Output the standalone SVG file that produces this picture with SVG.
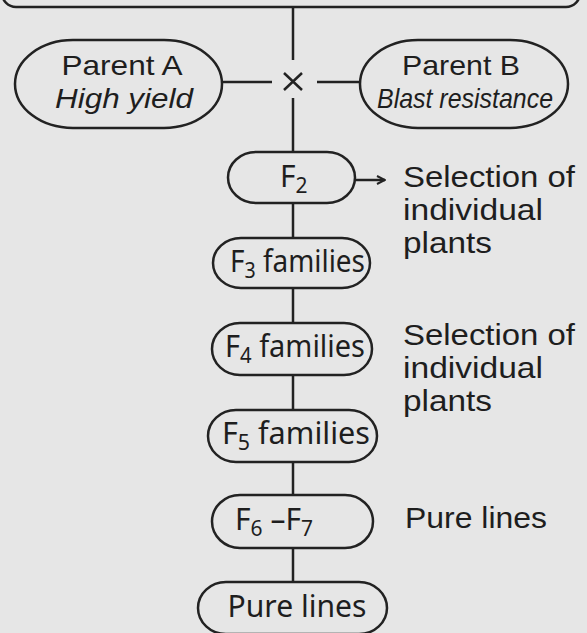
<svg xmlns="http://www.w3.org/2000/svg" width="587" height="633" viewBox="0 0 587 633">
<defs>
<style>
.bg{fill:#e6e6e6}
.box{fill:none;stroke:#222;stroke-width:2.5}
.ln{stroke:#222;stroke-width:2.5;fill:none}
.t{font-family:"Noto Sans","Liberation Sans",sans-serif;font-size:30px;fill:#1e1e1e}
.p{font-family:"Liberation Sans",Arial,sans-serif;font-size:28px;fill:#1e1e1e}
.it{font-style:italic}
.s{font-size:21px}
.r{font-family:"Liberation Sans",Arial,sans-serif;font-size:29px;fill:#1e1e1e}
</style>
<marker id="ah" viewBox="0 0 10 10" refX="9" refY="5" markerWidth="10" markerHeight="10" markerUnits="userSpaceOnUse" orient="auto">
<path d="M1,1 L9,5 L1,9" fill="none" stroke="#222" stroke-width="2"/>
</marker>
</defs>
<rect class="bg" x="0" y="0" width="587" height="633"/>
<g id="top-box"><rect class="box" x="2" y="-30" width="578" height="37" rx="14"/></g>
<g id="connectors">
<line class="ln" x1="293" y1="7" x2="293" y2="60"/>
<line class="ln" x1="293" y1="98" x2="293" y2="152"/>
<line class="ln" x1="222" y1="82" x2="272" y2="82"/>
<line class="ln" x1="317" y1="82" x2="360" y2="82"/>
<line class="ln" x1="293" y1="203" x2="293" y2="238"/>
<line class="ln" x1="293" y1="288" x2="293" y2="323"/>
<line class="ln" x1="293" y1="375" x2="293" y2="410"/>
<line class="ln" x1="293" y1="462" x2="293" y2="495"/>
<line class="ln" x1="293" y1="548" x2="293" y2="582"/>
<line class="ln" x1="355" y1="180" x2="385" y2="180" marker-end="url(#ah)"/>
</g>
<g id="cross"><path class="ln" d="M284,73 L302,90 M302,73 L284,90"/></g>
<g id="parentA">
<rect class="box" x="15" y="40" width="207" height="88" rx="58" ry="44"/>
<text class="p" x="122" y="75" text-anchor="middle" textLength="121" lengthAdjust="spacingAndGlyphs">Parent A</text>
<text class="p it" x="124" y="108" text-anchor="middle" textLength="138" lengthAdjust="spacingAndGlyphs">High yield</text>
</g>
<g id="parentB">
<rect class="box" x="360" y="40" width="208" height="88" rx="58" ry="44"/>
<text class="p" x="461" y="75" text-anchor="middle" textLength="118" lengthAdjust="spacingAndGlyphs">Parent B</text>
<text class="p it" x="465" y="108" text-anchor="middle" textLength="176" lengthAdjust="spacingAndGlyphs">Blast resistance</text>
</g>
<g id="F2">
<rect class="box" x="228" y="152" width="127" height="51" rx="28" ry="25.5"/>
<text class="t" x="280" y="187">F<tspan class="s" dy="6">2</tspan></text>
</g>
<g id="F3">
<rect class="box" x="213" y="238" width="157" height="50" rx="28" ry="25"/>
<text class="t" x="230" y="272" textLength="135" lengthAdjust="spacingAndGlyphs">F<tspan class="s" dy="6">3</tspan><tspan dy="-6"> families</tspan></text>
</g>
<g id="F4">
<rect class="box" x="212" y="323" width="160" height="52" rx="28" ry="26"/>
<text class="t" x="225" y="357" textLength="140" lengthAdjust="spacingAndGlyphs">F<tspan class="s" dy="6">4</tspan><tspan dy="-6"> families</tspan></text>
</g>
<g id="F5">
<rect class="box" x="208" y="410" width="169" height="52" rx="28" ry="26"/>
<text class="t" x="222" y="444" textLength="148" lengthAdjust="spacingAndGlyphs">F<tspan class="s" dy="6">5</tspan><tspan dy="-6"> families</tspan></text>
</g>
<g id="F6F7">
<rect class="box" x="212" y="495" width="161" height="53" rx="28" ry="26.5"/>
<text class="t" x="235" y="530">F<tspan class="s" dy="6">6</tspan><tspan dy="-6"> –F</tspan><tspan class="s" dy="6">7</tspan></text>
</g>
<g id="pure-lines">
<rect class="box" x="198" y="582" width="189" height="52" rx="28" ry="26"/>
<text class="t" x="297" y="617" text-anchor="middle" textLength="139" lengthAdjust="spacingAndGlyphs">Pure lines</text>
</g>
<g id="labels">
<text class="r" x="403" y="187" textLength="172" lengthAdjust="spacingAndGlyphs">Selection of</text>
<text class="r" x="403" y="220" textLength="140" lengthAdjust="spacingAndGlyphs">individual</text>
<text class="r" x="403" y="253" textLength="89" lengthAdjust="spacingAndGlyphs">plants</text>
<text class="r" x="403" y="345" textLength="172" lengthAdjust="spacingAndGlyphs">Selection of</text>
<text class="r" x="403" y="378" textLength="140" lengthAdjust="spacingAndGlyphs">individual</text>
<text class="r" x="403" y="411" textLength="89" lengthAdjust="spacingAndGlyphs">plants</text>
<text class="r" x="405" y="528" textLength="142" lengthAdjust="spacingAndGlyphs">Pure lines</text>
</g>
</svg>
